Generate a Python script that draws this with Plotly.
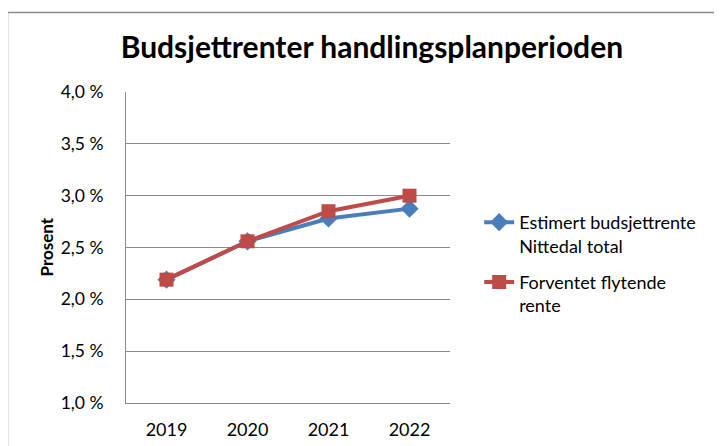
import plotly.graph_objects as go

years = ["2019", "2020", "2021", "2022"]
estimert = [2.19, 2.56, 2.78, 2.875]
forventet = [2.19, 2.56, 2.85, 3.0]
ytick_vals = [1.0, 1.5, 2.0, 2.5, 3.0, 3.5, 4.0]
ytick_text = ["1,0 %", "1,5 %", "2,0 %", "2,5 %", "3,0 %", "3,5 %", "4,0 %"]

FONT = "Lato"
GRID = "#8a8a8a"

fig = go.Figure()
fig.add_trace(go.Scatter(
    x=years, y=estimert, mode="lines+markers",
    name="Estimert budsjettrente<br>Nittedal total", legendgroup="a",
    line=dict(color="#4A7EBB", width=4),
    marker=dict(symbol="diamond", size=14, color="#4A7EBB"),
))
fig.add_trace(go.Scatter(
    x=years, y=forventet, mode="lines+markers",
    name="Forventet flytende<br>rente", legendgroup="b",
    line=dict(color="#BE4B48", width=4),
    marker=dict(symbol="square", size=14, color="#BE4B48"),
))

fig.update_layout(
    width=722, height=446,
    margin=dict(l=118, r=280, t=84, b=51),
    paper_bgcolor="white", plot_bgcolor="white",
    font=dict(family=FONT, color="#000000", size=17),
    title=dict(text="<b>Budsjettrenter handlingsplanperioden</b>",
               x=0.504, xanchor="center", y=1 - 39 / 446, yanchor="middle",
               font=dict(family=FONT, size=30, color="#000000")),
    showlegend=True,
    legend=dict(x=1.09, xanchor="left", y=0.64, yanchor="top",
                font=dict(family=FONT, size=18), valign="top",
                tracegroupgap=10, bgcolor="rgba(0,0,0,0)"),
    xaxis=dict(type="category", range=[-0.5, 3.5], showgrid=False,
               showline=True, linecolor=GRID, linewidth=1,
               ticks="outside", ticklen=10, tickcolor="rgba(0,0,0,0)",
               tickfont=dict(size=18, family=FONT), zeroline=False),
    yaxis=dict(range=[1.0, 4.0], tickvals=ytick_vals, ticktext=ytick_text,
               showgrid=True, gridcolor=GRID, gridwidth=1,
               showline=True, linecolor=GRID, linewidth=1,
               ticks="outside", ticklen=18, tickcolor="rgba(0,0,0,0)",
               tickfont=dict(size=17.5, family=FONT), zeroline=False),
    annotations=[dict(text="<b>Prosent</b>", textangle=-90, x=(38 - 118) / 324, y=0.5,
                      xref="paper", yref="paper", showarrow=False,
                      xanchor="center", yanchor="middle",
                      font=dict(family=FONT, size=17, color="#000000"))],
    shapes=[dict(type="rect", xref="paper", yref="paper",
                 x0=(-0.5 - 118) / 324, x1=(740 - 118) / 324,
                 y0=(395 - 460) / 311, y1=(395 - 4.5) / 311,
                 line=dict(color="#8c8c8c", width=1.5), layer="below")],
)

fig.write_html("out.html")
